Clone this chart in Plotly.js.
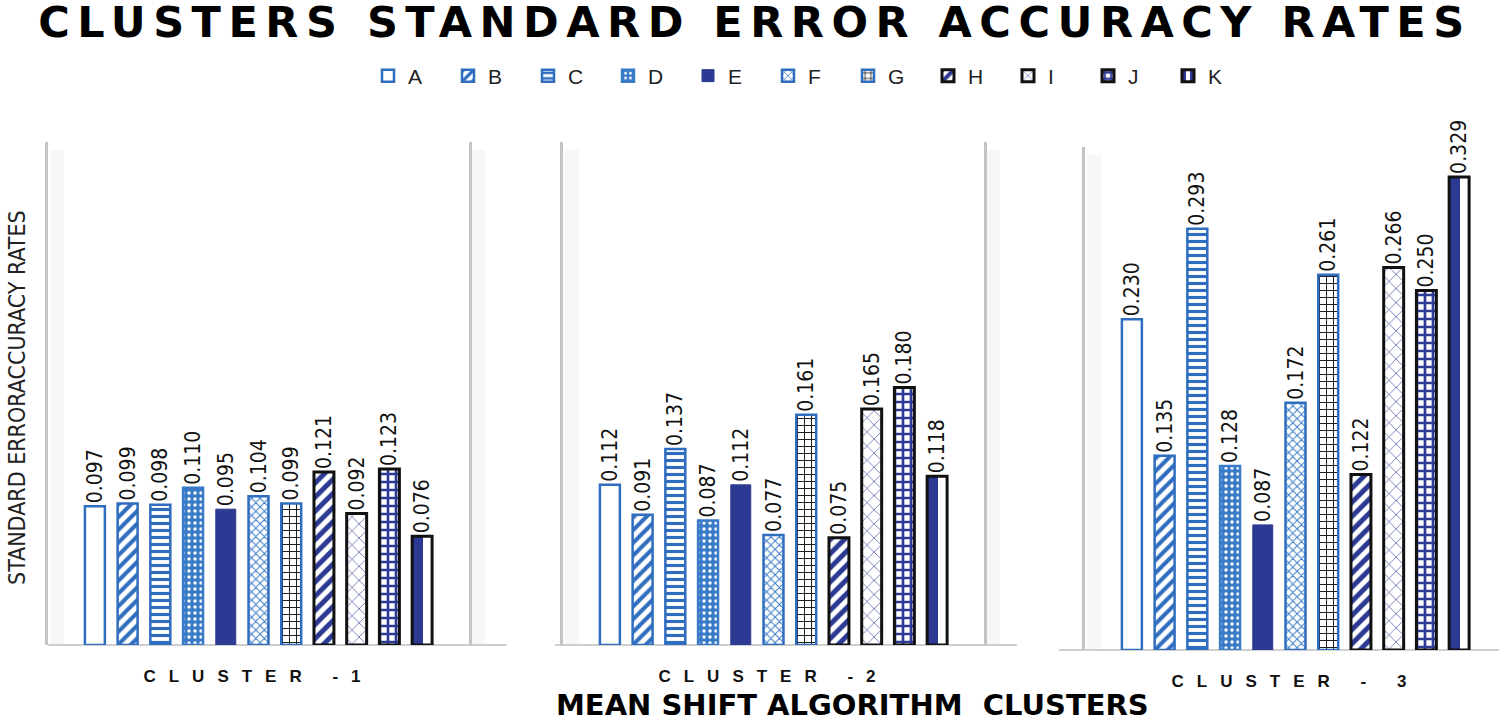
<!DOCTYPE html>
<html>
<head>
<meta charset="utf-8">
<script src="https://cdn.plot.ly/plotly-3.0.1.min.js"></script>
<style>
  html, body { margin: 0; padding: 0; background: #ffffff; }
  #chart { width: 1499px; height: 723px; }
  .gtitle { letter-spacing: 7.5px; }
  .xtick text, .x2tick text, .x3tick text { letter-spacing: 13px; }
</style>
</head>
<body>
<div id="chart"></div>
<script>
(function () {
  "use strict";

  const W = 1499;
  const H = 723;

  // data
  const SERIES = ["A", "B", "C", "D", "E", "F", "G", "H", "I", "J", "K"];
  const CLUSTERS = ["CLUSTER -1", "CLUSTER -2", "CLUSTER - 3"];
  const CLUSTER_1 = [0.097, 0.099, 0.098, 0.110, 0.095, 0.104, 0.099, 0.121, 0.092, 0.123, 0.076];
  const CLUSTER_2 = [0.112, 0.091, 0.137, 0.087, 0.112, 0.077, 0.161, 0.075, 0.165, 0.180, 0.118];
  const CLUSTER_3 = [0.230, 0.135, 0.293, 0.128, 0.087, 0.172, 0.261, 0.122, 0.266, 0.250, 0.329];
  const VALUES = [CLUSTER_1, CLUSTER_2, CLUSTER_3];

  const BLUE = "#2f6dbf";
  const MID = "#3a7bc8";
  const NAVY = "#2c3a93";
  const BLACK = "#111111";
  const WHITE = "#ffffff";

  const NARROW = "DejaVu Sans Condensed, Liberation Sans Narrow, Liberation Sans, sans-serif";
  const WIDE_BOLD = "DejaVu Sans, Liberation Sans, sans-serif";

  const STYLES = [
    { fill: WHITE, line: BLUE, lw: 2.5, shape: "" },
    { fill: WHITE, line: BLUE, lw: 2.5, shape: "/", fg: BLUE, size: 9, sol: 0.45 },
    { fill: WHITE, line: BLUE, lw: 2.5, shape: "-", fg: BLUE, size: 7, sol: 0.45 },
    { fill: MID, line: MID, lw: 2.5, shape: ".", fg: WHITE, bg: MID, size: 6, sol: 0.25 },
    { fill: NAVY, line: NAVY, lw: 1, shape: "" },
    { fill: WHITE, line: BLUE, lw: 2.5, shape: "x", fg: MID, size: 6, sol: 0.3 },
    { fill: WHITE, line: BLUE, lw: 2.5, shape: "+", fg: BLACK, size: 7, sol: 0.25 },
    { fill: WHITE, line: BLACK, lw: 3, shape: "/", fg: NAVY, size: 10, sol: 0.5 },
    { fill: WHITE, line: BLACK, lw: 3, shape: "x", fg: NAVY, size: 10, sol: 0.12 },
    { fill: WHITE, line: BLACK, lw: 3, shape: "+", fg: NAVY, size: 8, sol: 0.55 },
    { fill: WHITE, line: BLACK, lw: 3, shape: "|", fg: NAVY, size: 20, sol: 0.5 }
  ];

  // panel frames in pixels: left line, right line, top, baseline, scale (px per unit)
  const PANELS = [
    { left: 48, right: 469, top: 142, base: 645, scale: 1430, baseFrom: 48, baseTo: 507, mirror: true },
    { left: 563, right: 984, top: 142, base: 645, scale: 1430, baseFrom: 555, baseTo: 1017, mirror: true },
    { left: 1085, right: 1499, top: 147, base: 650, scale: 1438, baseFrom: 1059, baseTo: 1499, mirror: false }
  ];
  const GROUP_PX = 421; // one category slot

  const fx = (x) => x / W;
  const fy = (y) => 1 - y / H;

  function buildTraces() {
    const traces = [];
    PANELS.forEach((p, s) => {
      const ax = s === 0 ? "" : String(s + 1);
      SERIES.forEach((name, i) => {
        const st = STYLES[i];
        const marker = { color: st.fill, line: { color: st.line, width: st.lw } };
        if (st.shape) {
          marker.pattern = {
            shape: st.shape,
            fgcolor: st.fg,
            bgcolor: st.bg || WHITE,
            size: st.size,
            solidity: st.sol,
            fillmode: "replace"
          };
        }
        traces.push({
          type: "bar",
          name: name,
          legendgroup: name,
          showlegend: s === 0,
          x: [CLUSTERS[s]],
          y: [VALUES[s][i]],
          xaxis: "x" + ax,
          yaxis: "y" + ax,
          marker: marker,
          texttemplate: "%{y:.3f}",
          textposition: "outside",
          textangle: -90,
          constraintext: "none",
          cliponaxis: false,
          textfont: { family: NARROW, size: 21, color: "#111" },
          hovertemplate: name + " %{x}: %{y:.3f}<extra></extra>"
        });
      });
    });
    return traces;
  }

  function buildLayout() {
    const layout = {
      width: W,
      height: H,
      paper_bgcolor: WHITE,
      plot_bgcolor: "rgba(0,0,0,0)",
      margin: { l: 0, r: 0, t: 0, b: 0 },
      barmode: "group",
      bargap: 0.145,
      bargroupgap: 0.39,
      showlegend: true,
      title: {
        text: "<b>CLUSTERS STANDARD ERROR ACCURACY RATES</b>",
        x: 755 / W,
        xanchor: "center",
        y: 1 - 7 / H,
        yanchor: "top",
        yref: "container",
        font: { family: WIDE_BOLD, size: 43, color: "#000" }
      },
      legend: {
        orientation: "h",
        x: fx(368),
        xanchor: "left",
        y: fy(76),
        yanchor: "middle",
        itemwidth: 30,
        entrywidth: 35,
        entrywidthmode: "pixels",
        font: { family: "Liberation Sans, Arial, sans-serif", size: 21, color: "#222" },
        bgcolor: "rgba(0,0,0,0)",
        traceorder: "normal"
      },
      shapes: [],
      annotations: [
        {
          text: "STANDARD ERRORACCURACY RATES",
          xref: "paper", yref: "paper",
          x: fx(17), y: fy(398),
          xanchor: "center", yanchor: "middle",
          textangle: -90,
          showarrow: false,
          font: { family: NARROW, size: 23, color: "#222" }
        },
        {
          text: "<b>MEAN SHIFT ALGORITHM  CLUSTERS</b>",
          xref: "paper", yref: "paper",
          x: fx(852), y: fy(705),
          xanchor: "center", yanchor: "middle",
          showarrow: false,
          font: { family: WIDE_BOLD, size: 29, color: "#000" }
        }
      ]
    };

    PANELS.forEach((p, s) => {
      const key = s === 0 ? "" : String(s + 1);
      const width = p.right - p.left;
      layout["xaxis" + key] = {
        domain: [fx(p.left), fx(p.right)],
        anchor: "y" + key,
        type: "category",
        range: [-0.5, -0.5 + width / GROUP_PX],
        showgrid: false,
        zeroline: false,
        showline: false,
        ticks: "",
        tickvals: [CLUSTERS[s]],
        ticktext: [CLUSTERS[s]],
        ticklabelstandoff: 19,
        tickfont: { family: "Liberation Sans, Arial, sans-serif", size: 17, color: "#111", weight: "bold" },
        fixedrange: true
      };
      layout["yaxis" + key] = {
        domain: [fy(p.base), fy(p.top)],
        anchor: "x" + key,
        range: [0, (p.base - p.top) / p.scale],
        showgrid: false,
        zeroline: false,
        showticklabels: false,
        ticks: "",
        showline: true,
        mirror: p.mirror,
        linecolor: "#c4c4c4",
        linewidth: 3,
        fixedrange: true
      };

      // soft shadow beside the frame lines and the baseline
      const lines = p.mirror ? [p.left, p.right] : [p.left];
      lines.forEach((lx) => {
        layout.shapes.push({
          type: "rect", xref: "paper", yref: "paper", layer: "below",
          x0: fx(lx + 2), x1: fx(lx + 16), y0: fy(p.base), y1: fy(p.top + 8),
          fillcolor: "rgba(0,0,0,0.03)", line: { width: 0 }
        });
      });
      layout.shapes.push({
        type: "line", xref: "paper", yref: "paper", layer: "below",
        x0: fx(p.baseFrom), x1: fx(p.baseTo), y0: fy(p.base), y1: fy(p.base),
        line: { color: "#cfcfcf", width: 2 }
      });
    });

    return layout;
  }

  function init() {
    Plotly.newPlot("chart", buildTraces(), buildLayout(), { displayModeBar: false });
  }

  document.addEventListener("DOMContentLoaded", init);
})();
</script>
</body>
</html>
